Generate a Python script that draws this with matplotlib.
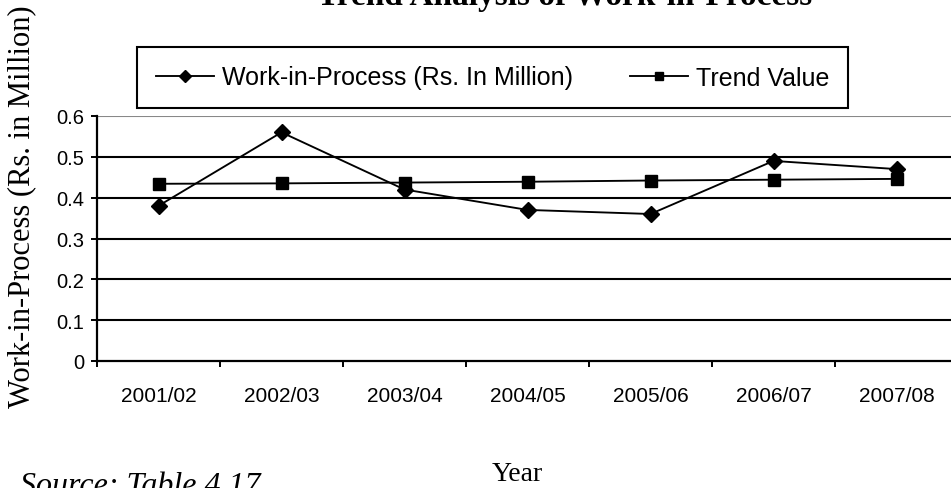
import matplotlib
matplotlib.use("Agg")
import matplotlib.pyplot as plt
import numpy as np

years = ["2001/02", "2002/03", "2003/04", "2004/05", "2005/06", "2006/07", "2007/08"]
wip = [0.38, 0.56, 0.42, 0.37, 0.36, 0.49, 0.47]
trend = [0.434, 0.435, 0.437, 0.439, 0.442, 0.444, 0.446]
y_ticks = [0, 0.1, 0.2, 0.3, 0.4, 0.5, 0.6]
y_tick_labels = ["0", "0.1", "0.2", "0.3", "0.4", "0.5", "0.6"]

W, H = 951, 489
fig = plt.figure(figsize=(W / 100, H / 100), dpi=100)
fig.patch.set_facecolor("white")

def fx(px):
    return px / W

def fy(py):
    return 1 - py / H

left, right, top, bottom = 97, 958, 117, 362
ax = fig.add_axes([fx(left), fy(bottom), fx(right - left), (bottom - top) / H])

x = np.arange(len(years))
sans = "Liberation Sans"
serif = "Liberation Serif"

# horizontal grid lines (top one is the grey plot-area border)
for v in y_ticks[1:]:
    col = "#888888" if v == y_ticks[-1] else "black"
    ax.axhline(v, color=col, lw=1.5, zorder=1)

l1, = ax.plot(x, wip, color="black", lw=1.35, marker="D", markersize=8.5,
              markerfacecolor="black", markeredgecolor="black", zorder=3,
              label="Work-in-Process (Rs. In Million)")
l2, = ax.plot(x, trend, color="black", lw=1.35, marker="s", markersize=8.5,
              markerfacecolor="black", markeredgecolor="black", zorder=3,
              label="Trend Value")

ax.set_xlim(-0.5, len(years) - 0.5)
ax.set_ylim(0, 0.6)

for s in ["top", "right"]:
    ax.spines[s].set_visible(False)
ax.spines["left"].set_linewidth(1.6)
ax.spines["bottom"].set_linewidth(1.6)

ax.set_yticks(y_ticks)
ax.set_yticklabels(y_tick_labels, fontfamily=sans, fontsize=14.5)
ax.tick_params(axis="y", direction="out", length=4, width=1.4, pad=5)

ax.set_xticks(x)
ax.set_xticklabels(years, fontfamily=sans, fontsize=15)
ax.set_xticks(np.arange(-0.5, len(years)), minor=True)
ax.tick_params(axis="x", which="major", length=0, pad=18)
ax.tick_params(axis="x", which="minor", direction="out", length=4, width=1.4)

# title, partly above the top edge
fig.text(fx(565), fy(5), "Trend Analysis of Work-in-Process", fontfamily=serif,
         fontweight="bold", fontsize=24, ha="center", va="baseline")

fig.text(fx(22), fy(207), "Work-in-Process (Rs. in Million)", fontfamily=serif,
         fontsize=22, rotation=90, ha="center", va="center")

fig.text(fx(517), fy(481), "Year", fontfamily=serif, fontsize=20,
         ha="center", va="baseline")

fig.text(fx(20), fy(494), "Source: Table 4.17", fontfamily=serif,
         fontstyle="italic", fontsize=23, ha="left", va="baseline")

leg = fig.legend(handles=[l1, l2], loc="center",
                 bbox_to_anchor=(fx(492.5), fy(78.5)),
                 ncol=2, frameon=True, fancybox=False, shadow=False,
                 prop={"family": sans, "size": 18},
                 handlelength=2.3, handletextpad=0.32, columnspacing=2.3,
                 borderpad=0.75, markerscale=0.75)
leg.get_frame().set_edgecolor("black")
leg.get_frame().set_linewidth(1.5)
leg.get_frame().set_alpha(None)

fig.savefig("out.png", dpi=100, facecolor="white")
